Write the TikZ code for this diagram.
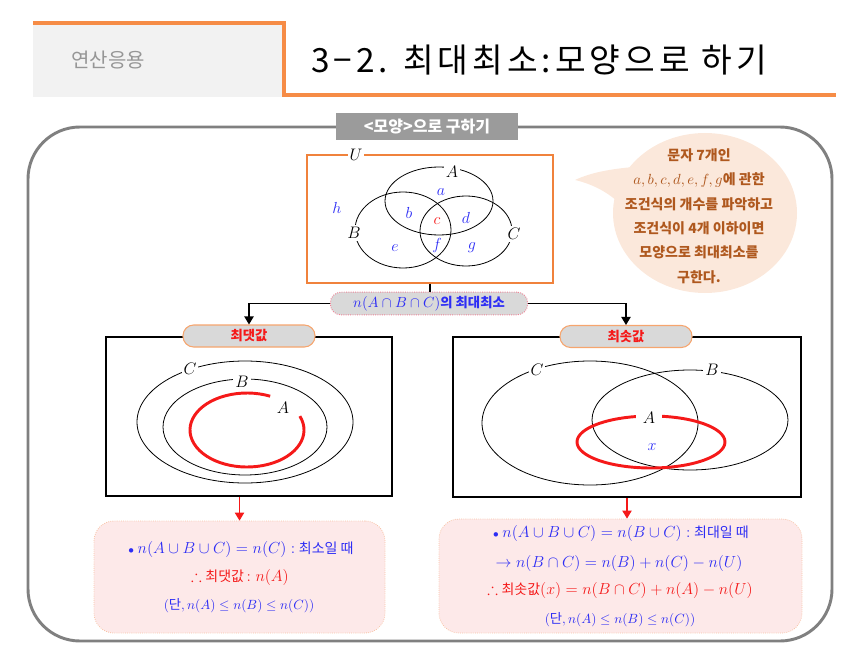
\RequirePackage{fix-cm}
\documentclass[tikz,border=0pt]{standalone}
\usepackage[no-math]{fontspec}
\usepackage{amssymb}
\setmainfont{Noto Sans CJK KR}
\usetikzlibrary{arrows.meta}
\definecolor{hdrorange}{RGB}{246,140,70}
\definecolor{hdrgray}{RGB}{242,242,242}
\definecolor{subgray}{RGB}{150,150,150}
\definecolor{framegray}{RGB}{128,128,128}
\definecolor{tabgray}{RGB}{155,155,155}
\definecolor{pillgray}{RGB}{217,217,217}
\definecolor{uorange}{RGB}{240,130,60}
\definecolor{tabborder}{RGB}{246,165,110}
\definecolor{pinkfill}{RGB}{253,233,233}
\definecolor{pinkborder}{RGB}{248,195,165}
\definecolor{pilldot}{RGB}{240,130,150}
\definecolor{bubblefill}{RGB}{251,232,219}
\definecolor{bubbletext}{RGB}{175,88,30}
\definecolor{myblue}{RGB}{45,45,245}
\definecolor{myred}{RGB}{245,25,25}
\newcommand\myfs[2]{\fontsize{#1}{#2}\selectfont}
\tikzset{
  conn/.style={black, line width=0.8pt},
  arr/.style={conn, -{Triangle[width=7pt,length=6pt]}},
  redarr/.style={myred, line width=0.8pt, -{Triangle[width=7pt,length=6pt]}},
  venn/.style={black, line width=0.6pt},
  redset/.style={myred, line width=2.2pt},
  lbl/.style={fill=white, inner sep=1.5pt, font=\myfs{12.5}{14}},
  small/.style={inner sep=1pt, font=\myfs{12}{14}, text=myblue},
  tabnode/.style={rounded corners=8pt, fill=pillgray, draw=tabborder, line width=0.8pt,
    minimum width=99pt, minimum height=16.5pt, inner sep=0pt,
    font=\bfseries\myfs{10}{12}, text=myred},
  blackbox/.style={draw=black, line width=2.2pt, inner sep=0pt},
  resbox/.style={rounded corners=15pt, fill=pinkfill, draw=pinkborder, densely dotted,
    line width=0.6pt, inner sep=0pt},
  resline/.style={inner sep=0pt, font=\myfs{12}{14}},
}
\begin{document}
\begin{tikzpicture}[x=0.75pt,y=-0.75pt]
\useasboundingbox (0,0) rectangle (859,652);

% header
\fill[hdrgray] (33,22) rectangle (283,97);
\draw[hdrorange, line width=3pt] (33,23.5) -- (284,23.5) -- (284,95) -- (836,95);
\node[text=subgray, font=\myfs{15}{18}] (sub) at (108,60) {연산응용};
\node[anchor=west, inner sep=0pt, font=\myfs{25}{30}\addfontfeature{LetterSpace=12}] (title) at (311,60) {3−2. 최대최소:모양으로 하기};

% outer frame
\draw[framegray, line width=2.2pt, rounded corners=39pt] (28,127) rectangle (832,641);
\node[fill=tabgray, text=white, font=\bfseries\myfs{12}{14}, minimum width=136.5pt,
  minimum height=20pt, inner sep=0pt] (maintab) at (427,126.5) {<모양>으로 구하기};

% speech bubble
\fill[bubblefill] (705,213) ellipse[x radius=92, y radius=80];
\fill[bubblefill] (633,167) .. controls (612,169) and (592,172) .. (575,180)
  .. controls (592,184) and (608,192) .. (620,204) -- cycle;
\node[text=bubbletext, font=\bfseries\myfs{10.5}{18.3}, align=center] (bubble) at (699,216)
  {문자 7개인\\ {\myfs{11}{18.3}$a,b,c,d,e,f,g$}에 관한\\ 조건식의 개수를 파악하고\\
   조건식이 4개 이하이면\\ 모양으로 최대최소를\\ 구한다.};

% universe with Venn diagram
\node[draw=uorange, line width=0.8pt, minimum width=184.5pt, minimum height=96pt,
  inner sep=0pt] (ubox) at (430,219) {};
\node[lbl] (lU) at (356,155) {$U$};
\draw[venn] (439,201) ellipse[x radius=54, y radius=34];
\draw[venn] (403,230) ellipse[x radius=48, y radius=38];
\draw[venn] (466,231) ellipse[x radius=46, y radius=35];
\node[lbl] (lA) at (452,172) {$A$};
\node[lbl] (lB) at (354,233) {$B$};
\node[lbl] (lC) at (514,234) {$C$};
\node[small] (rh) at (337,208) {$h$};
\node[small] (ra) at (441,192) {$a$};
\node[small] (rb) at (409,213) {$b$};
\node[small, text=myred] (rc) at (437,221) {$c$};
\node[small] (rd) at (466,218) {$d$};
\node[small] (re) at (395,248) {$e$};
\node[small] (rf) at (437,245) {$f$};
\node[small] (rg) at (472,248) {$g$};

% question pill
\node[rounded corners=8pt, fill=pillgray, draw=pilldot, densely dotted, line width=0.7pt,
  minimum width=148pt, minimum height=17pt, inner sep=0pt, text=myblue] (pill) at (429,303.5)
  {\myfs{11}{13}$n(A\cap B\cap C)$\bfseries\myfs{10}{12}의 최대최소};
\draw[conn] (ubox.south) -- (ubox.south |- pill.north);

% left case
\node[blackbox, minimum width=214.5pt, minimum height=119.25pt] (boxL) at (249,416.5) {};
\draw[venn] (245,422) ellipse[x radius=108, y radius=61];
\draw[venn] (245,427) ellipse[x radius=82, y radius=48];
\draw[redset] ([shift={(247,430)}]-22:57 and 37) arc[start angle=-22, end angle=294, x radius=57, y radius=37];
\node[lbl] (lCL) at (190,369) {$C$};
\node[lbl] (lBL) at (242,382) {$B$};
\node[inner sep=1pt, font=\myfs{12.5}{14}] (lAL) at (283,408) {$A$};
\node[tabnode] (tabL) at (249,336) {최댓값};
\draw[arr] (pill.west) -| (tabL.north);

% right case
\node[blackbox, minimum width=261pt, minimum height=120pt] (boxR) at (627,417) {};
\draw[venn] (590,423) ellipse[x radius=108, y radius=62];
\draw[venn] (690,420) ellipse[x radius=98, y radius=50];
\draw[redset] (651,442) ellipse[x radius=74, y radius=26];
\node[lbl] (lCR) at (537,370) {$C$};
\node[lbl] (lBR) at (712,370) {$B$};
\node[lbl, inner xsep=5pt] (lAR) at (649,418) {$A$};
\node[small] (lx) at (652,447) {$x$};
\node[tabnode] (tabR) at (626,336.5) {최솟값};
\draw[arr] (pill.east) -| (tabR.north);

% results
\node[resbox, minimum width=218.25pt, minimum height=84pt] (resL) at (239.5,577) {};
\draw[redarr] (resL.north |- boxL.south) -- (resL.north);
\node[resline, text=myblue] (l1) at (241,549) {$\scriptstyle\bullet\ \textstyle n(A\cup B\cup C)=n(C):$ {\myfs{10.5}{12}최소일 때}};
\node[resline, text=myred] (l2) at (240,577) {$\therefore$ {\myfs{10.5}{12}최댓값}$\,:n(A)$};
\node[resline, text=myblue, font=\myfs{10}{12}] (l3) at (239,606) {$($단$,n(A)\le n(B)\le n(C))$};

\node[resbox, minimum width=272.25pt, minimum height=85.5pt] (resR) at (620.5,576) {};
\draw[redarr] (boxR.south) -- (boxR.south |- resR.north);
\node[resline, text=myblue] (r1) at (621,533) {$\scriptstyle\bullet\ \textstyle n(A\cup B\cup C)=n(B\cup C):$ {\myfs{10.5}{12}최대일 때}};
\node[resline, text=myblue] (r2) at (619,563) {$\rightarrow n(B\cap C)=n(B)+n(C)-n(U)$};
\node[resline, text=myred] (r3) at (620,590) {$\therefore$ {\myfs{10.5}{12}최솟값}$(x)=n(B\cap C)+n(A)-n(U)$};
\node[resline, text=myblue, font=\myfs{10}{12}] (r4) at (620,620) {$($단$,n(A)\le n(B)\le n(C))$};
\end{tikzpicture}
\end{document}
